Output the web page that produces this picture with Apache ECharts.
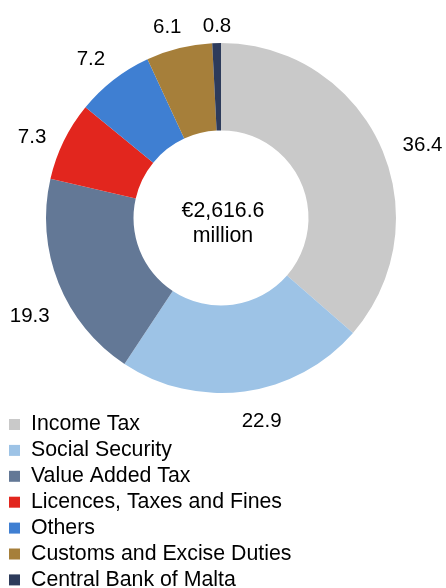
<!DOCTYPE html>
<html>
<head>
<meta charset="utf-8">
<script src="https://cdn.jsdelivr.net/npm/echarts@6/dist/echarts.min.js"></script>
<style>
html,body{margin:0;padding:0;background:#fff;}
#chart{width:446px;height:588px;}
</style>
</head>
<body>
<div id="chart"></div>
<script>
// ---- data ----
const categories = ["Income Tax", "Social Security", "Value Added Tax", "Licences, Taxes and Fines", "Others", "Customs and Excise Duties", "Central Bank of Malta"];
const shares = [36.4, 22.9, 19.3, 7.3, 7.2, 6.1, 0.8];
const centreText = ["€2,616.6", "million"];

// ---- styles ----
const colors = ["#C9C9C9", "#9DC3E6", "#637896", "#E2261E", "#3F7FD2", "#A67F3A", "#2D3B5B"];
const labelNudge = [[15, 8], [13, 10], [-1, 26], [-10, 5], [-8, -4], [-6, -1], [1, 4]];
const FONT = 'Arial, "Liberation Sans", sans-serif';
const CX = 221, CY = 218, R_OUT = 175, R_IN = 87.5;

const total = shares.reduce((a, b) => a + b, 0);

const chart = echarts.init(document.getElementById('chart'), null, {renderer: 'canvas'});
chart.setOption({
  animation: false,
  color: colors,
  title: {
    text: centreText.join('\n'),
    left: 218,
    top: 194,
    padding: 5,
    textAlign: 'center',
    textStyle: {fontFamily: FONT, fontSize: 21.3, fontWeight: 'normal', color: '#000', lineHeight: 25}
  },
  legend: {
    orient: 'vertical',
    left: 9,
    top: 414,
    height: 200,
    padding: 0,
    icon: 'rect',
    itemWidth: 11,
    itemHeight: 11,
    itemGap: 4.9,
    selectedMode: false,
    data: categories,
    textStyle: {fontFamily: FONT, fontSize: 21.3, color: '#000', lineHeight: 20, padding: [0, 0, 0, 6]}
  },
  series: [{
    type: 'pie',
    center: [CX, CY],
    radius: [R_IN, R_OUT],
    startAngle: 90,
    clockwise: true,
    avoidLabelOverlap: false,
    itemStyle: {borderWidth: 0},
    label: {
      show: true,
      position: 'outside',
      formatter: p => p.value.toFixed(1),
      fontFamily: FONT,
      fontSize: 20.5,
      color: '#000'
    },
    labelLine: {show: false, length: 10, length2: 0},
    labelLayout: function (p) {
      const i = p.dataIndex;
      let cum = 0;
      for (let j = 0; j < i; j++) cum += shares[j];
      const mid = (cum + shares[i] / 2) / total * Math.PI * 2;
      const dx = Math.sin(mid), dy = -Math.cos(mid);
      const w = p.labelRect.width, h = p.labelRect.height;
      const g = 10;
      return {
        x: CX + dx * (R_OUT + g) + dx * w / 2 + labelNudge[i][0],
        y: CY + dy * (R_OUT + g) + dy * h / 2 + labelNudge[i][1],
        align: 'center',
        verticalAlign: 'middle'
      };
    },
    emphasis: {disabled: true},
    data: categories.map((c, i) => ({name: c, value: shares[i]}))
  }]
});
</script>
</body>
</html>
